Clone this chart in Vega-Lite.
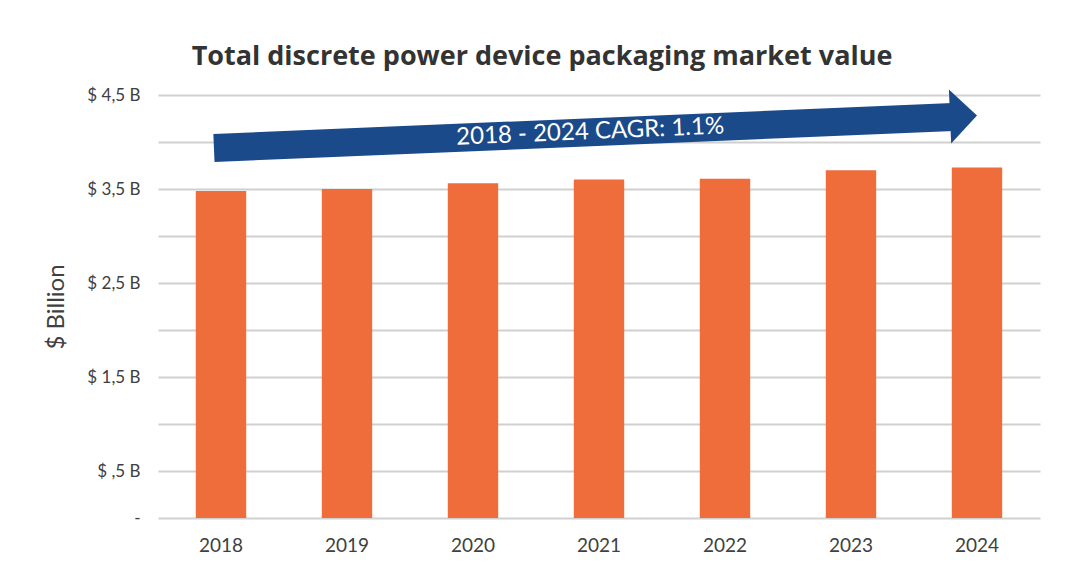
{
  "$schema": "https://vega.github.io/schema/vega-lite/v6.json",
  "width": 882,
  "height": 423,
  "autosize": {"type": "none"},
  "padding": {"left": 158, "top": 95, "right": 32, "bottom": 69},
  "background": "white",
  "config": {"view": {"stroke": null}, "font": "Lato"},
  "title": {
    "text": "Total discrete power device packaging market value",
    "font": "Open Sans",
    "fontSize": 27,
    "fontWeight": "bold",
    "color": "#333333",
    "anchor": "middle",
    "baseline": "bottom",
    "offset": -37,
    "dx": -57
  },
  "datasets": {
    "bars": [
      {"year": "2018", "value": 3.48},
      {"year": "2019", "value": 3.50},
      {"year": "2020", "value": 3.56},
      {"year": "2021", "value": 3.60},
      {"year": "2022", "value": 3.61},
      {"year": "2023", "value": 3.70},
      {"year": "2024", "value": 3.73}
    ],
    "shaft": [
      {"ax": 0.444, "ay": 3.936},
      {"ax": 6.31, "ay": 4.265}
    ],
    "head": [
      {"ax": 6.393, "ay": 4.277}
    ],
    "label": [
      {"ax": 3.43, "ay": 4.106, "text": "2018 - 2024 CAGR: 1.1%"}
    ]
  },
  "layer": [
    {
      "data": {"name": "bars"},
      "mark": {"type": "bar", "color": "#EF6D3B"},
      "encoding": {
        "x": {
          "field": "year",
          "type": "nominal",
          "scale": {"paddingInner": 0.6, "paddingOuter": 0.3},
          "axis": {
            "title": null,
            "labelAngle": 0,
            "labelFontSize": 19,
            "labelColor": "#404040",
            "labelPadding": 18,
            "domain": false,
            "ticks": false,
            "grid": false
          }
        },
        "y": {
          "field": "value",
          "type": "quantitative",
          "title": "$ Billion",
          "scale": {"domain": [0, 4.5], "nice": false},
          "axis": {
            "values": [0, 0.5, 1, 1.5, 2, 2.5, 3, 3.5, 4, 4.5],
            "labelExpr": "datum.value == 0 ? '-' : (floor(datum.value) == datum.value ? '' : '$ ' + (floor(datum.value) > 0 ? floor(datum.value) : '') + ',5 B')",
            "labelFontSize": 17,
            "labelColor": "#404040",
            "labelPadding": 18,
            "domain": false,
            "ticks": false,
            "grid": true,
            "gridColor": "#D0D0D0",
            "gridWidth": 2,
            "titleFontSize": 24,
            "titleFontWeight": "normal",
            "titleColor": "#404040",
            "titlePadding": 18
          }
        }
      }
    },
    {
      "data": {"name": "shaft"},
      "mark": {"type": "line", "color": "#1B4A8A", "strokeWidth": 28, "strokeCap": "butt"},
      "encoding": {
        "x": {"field": "ax", "type": "quantitative", "scale": {"domain": [0, 7], "nice": false, "zero": false}, "axis": null},
        "y": {"field": "ay", "type": "quantitative", "title": "$ Billion"}
      }
    },
    {
      "data": {"name": "head"},
      "mark": {"type": "point", "filled": true, "color": "#1B4A8A", "opacity": 1, "shape": "M -0.5 -1 L 0.5 0 L -0.5 1 Z", "size": 2916, "angle": 357.6},
      "encoding": {
        "x": {"field": "ax", "type": "quantitative", "scale": {"domain": [0, 7], "nice": false, "zero": false}, "axis": null},
        "y": {"field": "ay", "type": "quantitative", "title": "$ Billion"}
      }
    },
    {
      "data": {"name": "label"},
      "mark": {"type": "text", "color": "white", "fontSize": 24, "font": "Lato", "angle": 357.6, "align": "center", "baseline": "middle"},
      "encoding": {
        "x": {"field": "ax", "type": "quantitative", "scale": {"domain": [0, 7], "nice": false, "zero": false}, "axis": null},
        "y": {"field": "ay", "type": "quantitative", "title": "$ Billion"},
        "text": {"field": "text", "type": "nominal"}
      }
    }
  ],
  "resolve": {"scale": {"x": "independent"}}
}
